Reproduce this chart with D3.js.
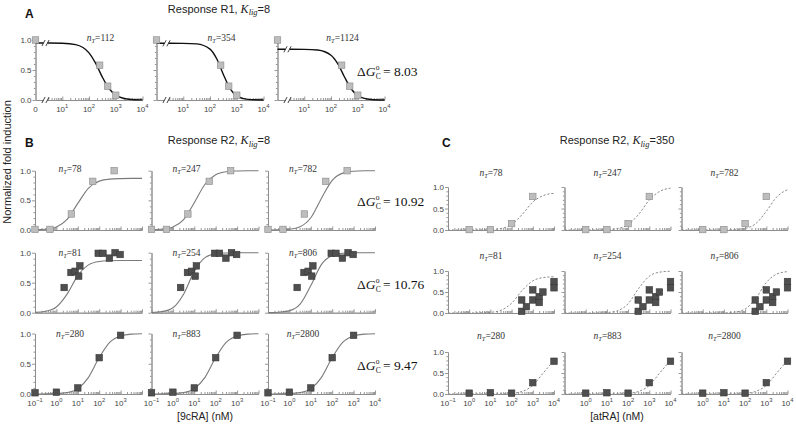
<!DOCTYPE html>
<html><head><meta charset="utf-8">
<script src="https://cdn.jsdelivr.net/npm/d3@7"></script>
<style>body{margin:0;background:#fff} svg{display:block}</style>
</head><body>
<svg id="c" width="796" height="428"></svg>
<script>
// ---------------- data ----------------
// Panel A : Response R1, Klig = 8 (9cRA)
const aConc = [0, 250, 500, 1000];
const aResp = [1.0, 0.58, 0.23, 0.08];
const aNT = [112, 354, 1124];
const aFitConc = [1, 3.16, 10, 31.6, 100, 178, 316, 562, 1000, 1778, 3162, 10000];
const aFit = [
  [0.95, 0.95, 0.946, 0.923, 0.785, 0.609, 0.381, 0.191, 0.082, 0.033, 0.013, 0.002],
  [0.945, 0.945, 0.944, 0.935, 0.848, 0.687, 0.426, 0.190, 0.068, 0.022, 0.007, 0.001],
  [0.845, 0.845, 0.844, 0.833, 0.746, 0.606, 0.388, 0.187, 0.074, 0.026, 0.009, 0.001]
];
// Panels B and C : Response R2
const nT = [[78, 247, 782], [81, 254, 806], [280, 883, 2800]];
const bConc = [
  [0.1, 0.5, 5, 50, 500],
  [2.3, 4.8, 7.5, 11, 12.5, 90, 150, 300, 550, 950],
  [0.1, 1, 10, 100, 1000]
];
const bResp = [
  [0.01, 0.01, 0.27, 0.82, 1.0],
  [0.42, 0.67, 0.69, 0.61, 0.78, 0.99, 0.99, 0.91, 1.0, 0.97],
  [0.02, 0.03, 0.10, 0.60, 0.97]
];
const cConc = [
  [1, 10, 100, 1000],
  [300, 500, 300, 1000, 1000, 2000, 2000, 3000, 10000, 10000],
  [1, 10, 100, 1000, 10000]
];
const cResp = [
  [0.01, 0.01, 0.15, 0.78],
  [0.04, 0.15, 0.31, 0.55, 0.31, 0.39, 0.25, 0.50, 0.75, 0.60],
  [0.02, 0.03, 0.02, 0.27, 0.78]
];
const fitConc = [0.1, 0.316, 1, 3.16, 10, 31.6, 100, 316, 1000, 3162, 10000];
const bFit = [
  [[0.003, 0.013, 0.051, 0.178, 0.448, 0.708, 0.824, 0.858, 0.867, 0.87, 0.87],
   [0.003, 0.013, 0.051, 0.175, 0.459, 0.771, 0.931, 0.982, 0.995, 0.999, 1.0],
   [0.001, 0.003, 0.013, 0.055, 0.206, 0.537, 0.838, 0.959, 0.990, 0.998, 1.0]],
  [[0.005, 0.023, 0.095, 0.309, 0.618, 0.797, 0.853, 0.866, 0.87, 0.87, 0.87],
   [0.004, 0.018, 0.082, 0.309, 0.691, 0.918, 0.983, 0.996, 0.999, 1.0, 1.0],
   [0.001, 0.007, 0.032, 0.142, 0.452, 0.805, 0.954, 0.990, 0.998, 1.0, 1.0]],
  [[0.0, 0.002, 0.006, 0.023, 0.087, 0.275, 0.602, 0.858, 0.960, 0.990, 0.997],
   [0.0, 0.002, 0.006, 0.023, 0.087, 0.275, 0.602, 0.858, 0.960, 0.990, 0.997],
   [0.0, 0.002, 0.006, 0.023, 0.087, 0.275, 0.602, 0.858, 0.960, 0.990, 0.997]]
];
const cFit = [
  [[0, 0, 0.001, 0.002, 0.009, 0.035, 0.128, 0.361, 0.649, 0.803, 0.853],
   [0, 0, 0.001, 0.002, 0.009, 0.035, 0.126, 0.365, 0.696, 0.901, 0.973],
   [0, 0, 0, 0, 0.002, 0.009, 0.037, 0.146, 0.433, 0.773, 0.938]],
  [[0, 0, 0.001, 0.004, 0.016, 0.065, 0.232, 0.538, 0.765, 0.844, 0.864],
   [0, 0, 0, 0.002, 0.011, 0.053, 0.220, 0.585, 0.876, 0.973, 0.995],
   [0, 0, 0, 0.001, 0.004, 0.021, 0.095, 0.345, 0.725, 0.929, 0.985]],
  [[0, 0, 0, 0, 0.001, 0.004, 0.016, 0.061, 0.205, 0.506, 0.803],
   [0, 0, 0, 0, 0.001, 0.004, 0.016, 0.061, 0.205, 0.506, 0.803],
   [0, 0, 0, 0, 0.001, 0.004, 0.016, 0.061, 0.205, 0.506, 0.803]]
];
const dG = ["8.03", "10.92", "10.76", "9.47"];
const yTicks = [0, 0.5, 1.0];
const yMinor = [0.1, 0.2, 0.3, 0.4, 0.6, 0.7, 0.8, 0.9];

// ---------------- drawing ----------------
const svg = d3.select("#c");
const SANS = "'Liberation Sans', Arial, Helvetica, sans-serif";
const SERIF = "'Liberation Serif', 'Times New Roman', serif";
const AX = "#8c8c8c";
const LIGHT = {fill: "#bdbdbd", stroke: "#8a8a8a"};
const DARK = {fill: "#4f4f4f", stroke: "#383838"};

function isDecade(v) { const l = Math.log10(v); return Math.abs(l - Math.round(l)) < 1e-6; }

function decadeText(g, x, y, e) {
  const t = g.append("text").attr("x", x).attr("y", y).attr("text-anchor", "middle")
    .attr("font-family", SANS).attr("font-size", 8).attr("fill", "#444");
  t.append("tspan").text("10");
  t.append("tspan").attr("dy", -3.3).attr("font-size", 5.8).text(e < 0 ? "\u2212" + (-e) : e);
}

function ntLabel(g, x, y, val) {
  const t = g.append("text").attr("x", x).attr("y", y).attr("text-anchor", "middle")
    .attr("font-family", SERIF).attr("font-size", 9.5).attr("fill", "#333");
  t.append("tspan").attr("font-style", "italic").text("n");
  t.append("tspan").attr("font-style", "italic").attr("font-size", 6.5).attr("dy", 2).text("T");
  t.append("tspan").attr("dy", -2).text("=" + val);
}

function plot(o) {
  const x = d3.scaleLog().domain(o.dom).range([o.x0, o.x0 + o.w]);
  const y = d3.scaleLinear().domain([0, 1]).range([o.bot, o.top]);
  const g = svg.append("g");
  const all = x.ticks().filter(v => v >= o.minMinor);
  const dec = all.filter(isDecade);
  const minor = all.filter(v => !isDecade(v));
  g.append("g").attr("transform", `translate(0,${o.bot})`)
    .call(d3.axisBottom(x).tickValues(minor).tickSize(-2).tickSizeOuter(0).tickFormat(""));
  g.append("g").attr("transform", `translate(0,${o.bot})`)
    .call(d3.axisBottom(x).tickValues(dec).tickSize(-3.5).tickSizeOuter(0).tickFormat(""));
  g.append("g").attr("transform", `translate(${o.x0},0)`)
    .call(d3.axisLeft(y).tickValues(yMinor).tickSize(1.6).tickSizeOuter(0).tickFormat(""));
  const gy = g.append("g").attr("transform", `translate(${o.x0},0)`)
    .call(d3.axisLeft(y).tickValues(yTicks).tickSize(3).tickSizeOuter(0)
      .tickFormat(o.showY ? d3.format(".1f") : ""));
  gy.selectAll("text").attr("font-family", SANS).attr("font-size", 8).attr("fill", "#444").attr("x", -4);
  g.selectAll(".domain, .tick line").attr("stroke", AX).attr("stroke-width", 0.9);
  (o.labelsX || []).forEach(e => decadeText(g, x(Math.pow(10, e)), o.bot + 11.5, e));
  if (o.zeroLabel) {
    g.append("text").attr("x", o.x0).attr("y", o.bot + 11.5).attr("text-anchor", "middle")
      .attr("font-family", SANS).attr("font-size", 8).attr("fill", "#444").text("0");
  }
  const pts = o.fitX.map((c, i) => [c, o.fitY[i]]);
  g.append("path").datum(pts)
    .attr("d", d3.line().x(d => x(d[0])).y(d => y(d[1])).curve(d3.curveMonotoneX))
    .attr("fill", "none").attr("stroke", o.line.stroke).attr("stroke-width", o.line.width)
    .attr("stroke-dasharray", o.line.dash || null);
  if (o.breakAt) {
    const bx = o.x0 + o.breakAt;
    [y(o.fitY[0]), o.bot].forEach(by => {
      g.append("rect").attr("x", bx - 2).attr("y", by - 2).attr("width", 4).attr("height", 4).attr("fill", "#fff");
      [-2, 2].forEach(dx => {
        g.append("line").attr("x1", bx + dx - 1.6).attr("y1", by + 3)
          .attr("x2", bx + dx + 1.6).attr("y2", by - 3).attr("stroke", o.line.stroke).attr("stroke-width", 0.8);
      });
    });
  }
  const s = o.size;
  g.selectAll("rect.pt").data(o.conc.map((c, i) => [c, o.resp[i]])).join("rect").attr("class", "pt")
    .attr("x", d => (d[0] === 0 ? o.x0 : x(d[0])) - s / 2).attr("y", d => y(d[1]) - s / 2)
    .attr("width", s).attr("height", s).attr("fill", o.sq.fill).attr("stroke", o.sq.stroke).attr("stroke-width", 0.6);
  ntLabel(g, o.x0 + o.ntDx, o.ntY, o.nt);
}

// Panel A
const aCols = [35.5, 156.5, 277.5];
aCols.forEach((x0, j) => {
  plot({
    x0: x0, w: 107, top: 40, bot: 100, dom: [1, 1e4], minMinor: 3,
    conc: aConc, resp: aResp, fitX: aFitConc, fitY: aFit[j],
    labelsX: [1, 2, 3, 4], zeroLabel: j === 0, showY: j === 0,
    line: {stroke: "#111", width: 1.4}, sq: LIGHT, size: 6.5, breakAt: 10,
    nt: aNT[j], ntDx: 65, ntY: 40.5
  });
});

// Panel B
const bCols = [35, 151.5, 268];
const bTops = [170.7, 252.7, 333.5], bBots = [230, 312.7, 394];
const bLabels = [[-1, 0, 1, 2, 3], [-1, 0, 1, 2, 3], [-1, 0, 1, 2, 3, 4]];
const bNtY = [172, 256, 336.5];
for (let r = 0; r < 3; r++) {
  for (let j = 0; j < 3; j++) {
    plot({
      x0: bCols[j], w: 107, top: bTops[r], bot: bBots[r], dom: [0.1, 1e4], minMinor: 0.1,
      conc: bConc[r], resp: bResp[r], fitX: fitConc, fitY: bFit[r][j],
      labelsX: r === 2 ? bLabels[j] : null, showY: j === 0,
      line: {stroke: "#7a7a7a", width: 1.1}, sq: r === 0 ? LIGHT : DARK, size: 6.5,
      nt: nT[r][j], ntDx: 35, ntY: bNtY[r]
    });
  }
}

// Panel C
const cCols = [448, 564.5, 681.5];
const cTops = [187, 271, 352], cBots = [230, 313, 394];
const cLabels = [[-1, 0, 1, 2, 3, 4], [0, 1, 2, 3, 4], [0, 1, 2, 3, 4]];
const cNtY = [176, 259, 339];
for (let r = 0; r < 3; r++) {
  for (let j = 0; j < 3; j++) {
    plot({
      x0: cCols[j], w: 106, top: cTops[r], bot: cBots[r], dom: [0.1, 1e4], minMinor: 0.1,
      conc: cConc[r], resp: cResp[r], fitX: fitConc, fitY: cFit[r][j],
      labelsX: r === 2 ? cLabels[j] : null, showY: j === 0,
      line: {stroke: "#8a8a8a", width: 1, dash: "2.2,1.8"}, sq: r === 0 ? LIGHT : DARK, size: 6.5,
      nt: nT[r][j], ntDx: 43, ntY: cNtY[r]
    });
  }
}

// titles, panel letters
function title(cx, y, resp, k) {
  const t = svg.append("text").attr("x", cx).attr("y", y).attr("text-anchor", "middle")
    .attr("font-family", SANS).attr("font-size", 11).attr("fill", "#222");
  t.append("tspan").text("Response " + resp + ", ");
  t.append("tspan").attr("font-family", SERIF).attr("font-style", "italic").attr("font-size", 12).text("K");
  t.append("tspan").attr("font-family", SERIF).attr("font-style", "italic").attr("font-size", 8.5).attr("dy", 2.5).text("lig");
  t.append("tspan").attr("dy", -2.5).text("=" + k);
}
title(219, 12.5, "R1", "8");
title(219, 144, "R2", "8");
title(617, 144, "R2", "350");
[["A", 25, 17.5], ["B", 25, 147], ["C", 442, 147]].forEach(d => {
  svg.append("text").attr("x", d[1]).attr("y", d[2]).attr("font-family", SANS).attr("font-weight", "bold")
    .attr("font-size", 12).attr("fill", "#111").text(d[0]);
});

// delta G labels
function dgLabel(x, y, val) {
  const g = svg.append("g").attr("font-family", SERIF).attr("fill", "#111");
  const t1 = g.append("text").attr("x", x).attr("y", y).attr("font-size", 13.5);
  t1.append("tspan").text("\u0394");
  t1.append("tspan").attr("font-style", "italic").text("G");
  const w = t1.node().getComputedTextLength();
  g.append("text").attr("x", x + w + 0.3).attr("y", y - 6).attr("font-size", 7.5).text("o");
  g.append("text").attr("x", x + w + 0.3).attr("y", y + 2.5).attr("font-size", 7.5).text("C");
  g.append("text").attr("x", x + w + 7.5).attr("y", y).attr("font-size", 13.5).text("= " + val);
}
dgLabel(357, 76, dG[0]);
dgLabel(357, 206, dG[1]);
dgLabel(357, 289, dG[2]);
dgLabel(357, 370, dG[3]);

// axis titles
svg.append("text").attr("transform", "translate(11,162) rotate(-90)").attr("text-anchor", "middle")
  .attr("font-family", SANS).attr("font-size", 11).attr("fill", "#222").text("Normalized fold induction");
svg.append("text").attr("x", 205).attr("y", 420).attr("text-anchor", "middle")
  .attr("font-family", SANS).attr("font-size", 10.5).attr("fill", "#222").text("[9cRA] (nM)");
svg.append("text").attr("x", 617).attr("y", 420).attr("text-anchor", "middle")
  .attr("font-family", SANS).attr("font-size", 10.5).attr("fill", "#222").text("[atRA] (nM)");
</script>
</body></html>
